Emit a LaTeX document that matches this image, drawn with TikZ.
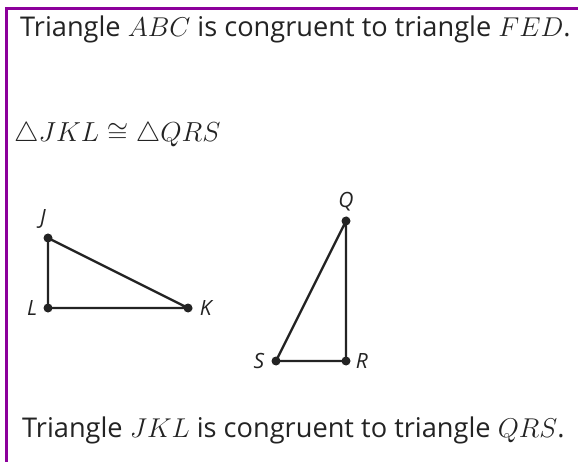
\RequirePackage{fix-cm}
\documentclass[tikz,border=0pt]{standalone}
\usepackage{fontspec}
\setmainfont{Open Sans}
\usetikzlibrary{positioning}
\definecolor{framepurple}{RGB}{140,0,155}
\definecolor{inkgray}{RGB}{35,35,35}

\begin{document}
\begin{tikzpicture}[x=1pt, y=-1pt,
  vertex/.style={circle, fill=inkgray, inner sep=0pt, minimum size=9pt},
  vlabel/.style={font=\fontsize{21}{21}\selectfont\itshape, text=inkgray, inner sep=0pt},
  side/.style={line width=2.3pt, draw=inkgray},
  textline/.style={anchor=base west, font=\fontsize{27.2}{30}\selectfont, text=inkgray, inner sep=0pt}]

  \useasboundingbox (0,0) rectangle (578,462);
  \clip (0,0) rectangle (578,462);

  % ---- frame: left and top edges only, the rest runs off the page ----
  \draw[framepurple, line width=3pt] (6.5,600) -- (6.5,8.5) -- (700,8.5);

  % ---- statements ----
  \node[textline] (first) at (20,37) {Triangle $ABC$ is congruent to triangle $FED$.};
  \node[textline, font=\fontsize{27.5}{30}\selectfont] (given) at (14,142)
    {$\triangle JKL \cong \triangle QRS$};
  \node[textline] (last) at (22,437) {Triangle $JKL$ is congruent to triangle $QRS$.};

  % ---- vertices ----
  \foreach \n/\x/\y in {J/48/238, L/48/308, K/188/308, Q/346/221, R/346/361, S/276/361}
    \node[vertex] (\n) at (\x,\y) {};

  % ---- sides ----
  \draw[side] (J.center) -- (L.center) -- (K.center) -- cycle;
  \draw[side] (Q.center) -- (R.center) -- (S.center) -- cycle;

  % ---- vertex labels ----
  \node[vlabel, above=5pt of J, xshift=-5pt] (Jlab) {J};
  \node[vlabel, left=6pt of L] (Llab) {L};
  \node[vlabel, right=7pt of K] (Klab) {K};
  \node[vlabel, above=5pt of Q] (Qlab) {Q};
  \node[vlabel, left=7pt of S] (Slab) {S};
  \node[vlabel, right=5pt of R] (Rlab) {R};

\end{tikzpicture}
\end{document}
